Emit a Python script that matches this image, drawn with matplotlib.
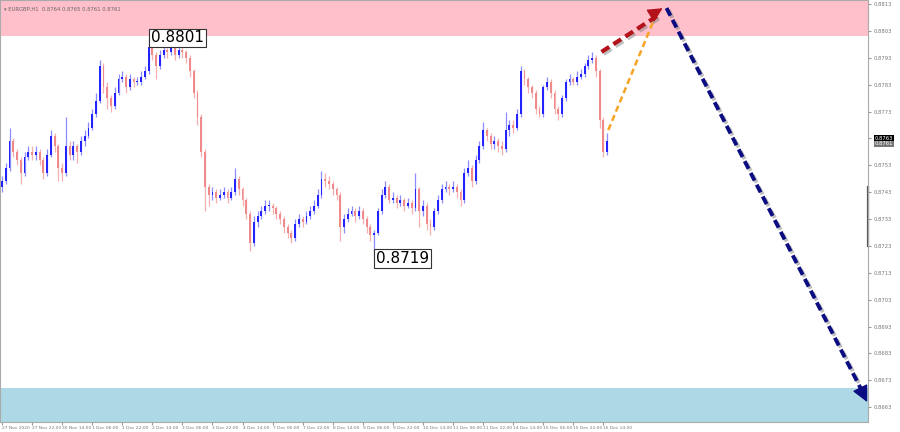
import matplotlib.pyplot as plt
import matplotlib.patheffects as pe

# EURGBP H1 chart, prices shown as 2-hour candles, in pips above 0.8700
base = 0.8700
first_open = 45
closes = [47, 52, 62, 58, 55, 50, 56, 58, 57, 58, 55, 50, 57, 64, 60, 52,
          50, 60, 57, 60, 58, 62, 64, 67, 72, 77, 90, 82, 78, 75, 80, 85,
          86, 82, 85, 84, 84, 86, 88, 97, 94, 90, 94, 96, 95, 97, 94, 96,
          95, 93, 88, 80, 71, 58, 45, 42, 43, 41, 42, 43, 41, 43, 48, 44,
          40, 35, 24, 32, 34, 36, 38, 38, 37, 35, 33, 30, 28, 26, 31, 33,
          32, 34, 36, 38, 42, 48, 47, 46, 44, 42, 30, 33, 35, 36, 34, 36,
          33, 30, 27, 28, 36, 42, 45, 40, 41, 39, 40, 38, 39, 37, 44, 36,
          38, 31, 30, 36, 40, 44, 45, 44, 45, 43, 40, 50, 52, 47, 55, 60,
          66, 64, 61, 62, 60, 59, 66, 68, 67, 72, 88, 85, 82, 80, 74, 72,
          82, 84, 80, 74, 72, 78, 84, 85, 84, 86, 87, 90, 92, 93, 88, 70,
          58, 62]
highs = [49, 54, 67, 63, 59, 56, 58, 60, 60, 60, 59, 56, 59, 66, 65, 61,
         54, 71, 62, 62, 61, 64, 66, 69, 74, 80, 92, 91, 84, 79, 82, 87,
         88, 87, 87, 86, 86, 88, 90, 100.5, 99, 95, 96, 98, 98, 99, 98, 98,
         97, 96, 94, 89, 81, 72, 59, 46, 45, 44, 44, 45, 44, 45, 52, 49,
         45, 41, 36, 34, 36, 38, 40, 40, 39, 38, 36, 34, 31, 29, 33, 35,
         34, 36, 38, 40, 44, 51, 50, 49, 47, 45, 43, 35, 37, 38, 37, 38,
         37, 34, 31, 29, 37, 44, 47, 46, 43, 42, 42, 41, 41, 40, 50, 45,
         40, 39, 33, 37, 42, 46, 47, 46, 47, 46, 44, 52, 55, 53, 57, 62,
         69, 67, 65, 64, 63, 62, 73, 70, 70, 74, 90, 89, 86, 83, 81, 75,
         83, 86, 85, 81, 75, 79, 85, 87, 86, 88, 89, 91, 94, 95, 94, 89,
         71, 65]
lows = [43, 46, 51, 56, 53, 46, 49, 55, 55, 55, 53, 48, 49, 56, 58, 47,
        47, 49, 55, 55, 54, 57, 60, 63, 66, 71, 76, 80, 74, 73, 74, 79,
        84, 80, 81, 82, 83, 83, 85, 87, 92, 85, 89, 93, 93, 94, 92, 93,
        93, 91, 86, 78, 68, 56, 36, 38, 40, 39, 40, 41, 39, 40, 42, 42,
        38, 33, 21, 23, 30, 33, 35, 36, 35, 33, 31, 28, 26, 24, 25, 30,
        30, 31, 33, 35, 37, 41, 45, 44, 42, 40, 25, 28, 32, 34, 32, 33,
        31, 28, 25, 19.5, 27, 35, 41, 39, 39, 37, 38, 36, 37, 35, 36, 30,
        34, 29, 27, 29, 35, 39, 43, 42, 43, 41, 38, 39, 49, 45, 46, 54,
        59, 62, 59, 59, 58, 57, 58, 64, 65, 66, 71, 83, 80, 78, 72, 71,
        71, 81, 78, 72, 70, 71, 77, 83, 83, 83, 85, 86, 89, 91, 86, 67,
        56, 57]

time_labels = ["27 Nov 2020", "27 Nov 22:00", "30 Nov 14:00", "1 Dec 06:00",
               "1 Dec 22:00", "2 Dec 14:00", "3 Dec 06:00", "3 Dec 22:00",
               "4 Dec 14:00", "7 Dec 06:00", "7 Dec 22:00", "8 Dec 14:00",
               "9 Dec 06:00", "9 Dec 22:00", "10 Dec 14:00", "11 Dec 06:00",
               "11 Dec 22:00", "14 Dec 14:00", "15 Dec 06:00", "15 Dec 22:00",
               "16 Dec 14:00"]
price_ticks = [0.8663, 0.8673, 0.8683, 0.8693, 0.8703, 0.8713, 0.8723, 0.8733,
               0.8743, 0.8753, 0.8763, 0.8773, 0.8783, 0.8793, 0.8803, 0.8813]

resistance_zone = (0.8801, 0.8815)
support_zone = (0.86575, 0.8670)
high_label = 0.8801
low_label = 0.8719
current_price = 0.8763
bid_price = 0.8761


def px(p):
    return base + p / 10000


opens = [first_open] + closes[:-1]
o = [px(v) for v in opens]
c = [px(v) for v in closes]
h = [px(v) for v in highs]
l = [px(v) for v in lows]
idx = list(range(len(c)))

fig = plt.figure(figsize=(9, 4.32), dpi=100)
ax = fig.add_axes([0.0, 10 / 432, 868 / 900, 422 / 432])
ax.set_xlim(-0.53, 230.4)
ax.set_ylim(0.86575, 0.88145)

ax.axhspan(*resistance_zone, color='pink', zorder=0, lw=0)
ax.axhspan(*support_zone, color='lightblue', zorder=0, lw=0)

for i in idx:
    up = c[i] >= o[i]
    body_col = '#2323ff' if up else '#f08a8a'
    wick_col = '#8c8cff' if up else '#f5b0b0'
    ax.vlines(i, l[i], h[i], color=wick_col, lw=0.9, zorder=2)
    ax.bar(i, max(abs(c[i] - o[i]), 0.00002), bottom=min(o[i], c[i]),
           width=0.5, color=body_col, lw=0, zorder=3)

# forecast arrows
shadow = [pe.SimpleLineShadow(offset=(1.5, -1.5), shadow_color='gray', alpha=0.5), pe.Normal()]
ax.plot([159.5, 174.8], [px(95.2), px(109.0)], ls=(0, (2.2, 1.2)), lw=3,
        color='#b3121b', path_effects=shadow, zorder=5)
ax.annotate('', xy=(176.4, px(112.0)), xytext=(173.4, px(109.4)),
            arrowprops=dict(arrowstyle='-|>,head_length=0.9,head_width=0.45',
                            color='#b3121b', lw=1), zorder=6)
ax.plot([161.3, 174.1], [px(66.1), px(109.3)], ls=(0, (2.5, 1.5)), lw=1.8,
        color='#f6a426', zorder=5)
ax.plot([176.8, 229.0], [px(111.5), px(-31.5)], ls=(0, (2.2, 1.2)), lw=2.8,
        color='#0c0c82', path_effects=shadow, zorder=5)
ax.annotate('', xy=(230.5, px(-36.0)), xytext=(228.6, px(-30.6)),
            arrowprops=dict(arrowstyle='-|>,head_length=1.0,head_width=0.5',
                            color='#0c0c82', lw=1), zorder=6)

box = dict(boxstyle='square,pad=0.12', fc='white', ec='#333333', lw=0.8)
ax.text(39.7, px(100.4), f"{high_label:.4f}", fontsize=11, ha='left', va='center',
        bbox=box, zorder=7)
ax.text(99.4, px(18.3), f"{low_label:.4f}", fontsize=11, ha='left', va='center',
        bbox=box, zorder=7)

ax.text(0.005, 0.985, "\u25be EURGBP,H1  0.8764 0.8765 0.8761 0.8761", transform=ax.transAxes,
        fontsize=3.8, color='#666666', ha='left', va='top')

ax.yaxis.tick_right()
ax.set_yticks(price_ticks)
ax.set_yticklabels([f"{t:.4f}" for t in price_ticks])
ax.tick_params(axis='y', labelsize=3.8, labelcolor='#777777', length=2,
               color='#999999', pad=2)
ax.set_xticks(list(range(0, 8 * len(time_labels), 8)))
ax.set_xticklabels(time_labels, ha='left')
ax.tick_params(axis='x', labelsize=3.2, labelcolor='#777777', length=2,
               color='#999999', pad=1)

for lab, val, fc in [("0.8763", current_price, 'black'), ("0.8761", bid_price, '#777777')]:
    ax.text(1.008, val, lab, transform=ax.get_yaxis_transform(), fontsize=3.8,
            color='white', ha='left', va='center',
            bbox=dict(boxstyle='square,pad=0.15', fc=fc, ec='none'))

ax.plot([1.0, 1.0], [0.8723, 0.8745], transform=ax.get_yaxis_transform(),
        color='#555555', lw=1.6, clip_on=False)

for s in ax.spines.values():
    s.set_color('#aaaaaa')
    s.set_linewidth(0.8)

fig.savefig("out.png", dpi=100)
